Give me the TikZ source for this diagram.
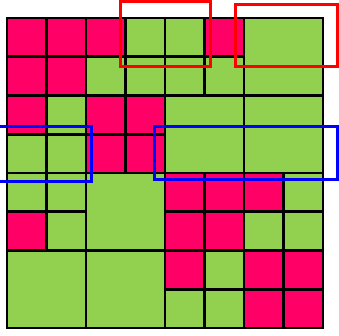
\documentclass[tikz,border=0pt]{standalone}
\definecolor{cellred}{HTML}{FF0066}
\definecolor{cellgreen}{HTML}{92D050}
\tikzset{
  cell/.style={draw=black, line width=2.6pt},
  mark box/.style={line width=3pt}
}
\begin{document}
\begin{tikzpicture}[x=1pt,y=-1pt,line join=miter]
  \useasboundingbox (0,0) rectangle (339,335);
  \begin{scope}[shift={(7,18)}, x=39.5pt, y=-38.75pt]
    % the two quadrants of unit cells
    \foreach \dx/\dy in {0/0,4/4}
      \foreach \c/\r/\f in {0/0/cellred,1/0/cellred,2/0/cellred,3/0/cellgreen,
                            0/1/cellred,1/1/cellred,2/1/cellgreen,3/1/cellgreen,
                            0/2/cellred,1/2/cellgreen,2/2/cellred,3/2/cellred,
                            0/3/cellgreen,1/3/cellgreen,2/3/cellred,3/3/cellred}
        \draw[cell, fill=\f] (\c+\dx,\r+\dy) rectangle ++(1,1);
    % the other two quadrants
    \foreach \c/\r/\s/\f in {4/0/1/cellgreen,5/0/1/cellred,6/0/2/cellgreen,
                             4/1/1/cellgreen,5/1/1/cellgreen,
                             4/2/2/cellgreen,6/2/2/cellgreen,
                             0/4/1/cellgreen,1/4/1/cellgreen,2/4/2/cellgreen,
                             0/5/1/cellred,1/5/1/cellgreen,
                             0/6/2/cellgreen,2/6/2/cellgreen}
      \draw[cell, fill=\f] (\c,\r) rectangle ++(\s,\s);
  \end{scope}
  % highlighted regions
  \draw[mark box, red] (120,1) rectangle (210,66);
  \draw[mark box, red] (235,4) rectangle (337.5,66);
  \draw[mark box, blue] (-3,126.5) rectangle (91,181);
  \draw[mark box, blue] (154,126.5) rectangle (337.5,179);
\end{tikzpicture}
\end{document}
